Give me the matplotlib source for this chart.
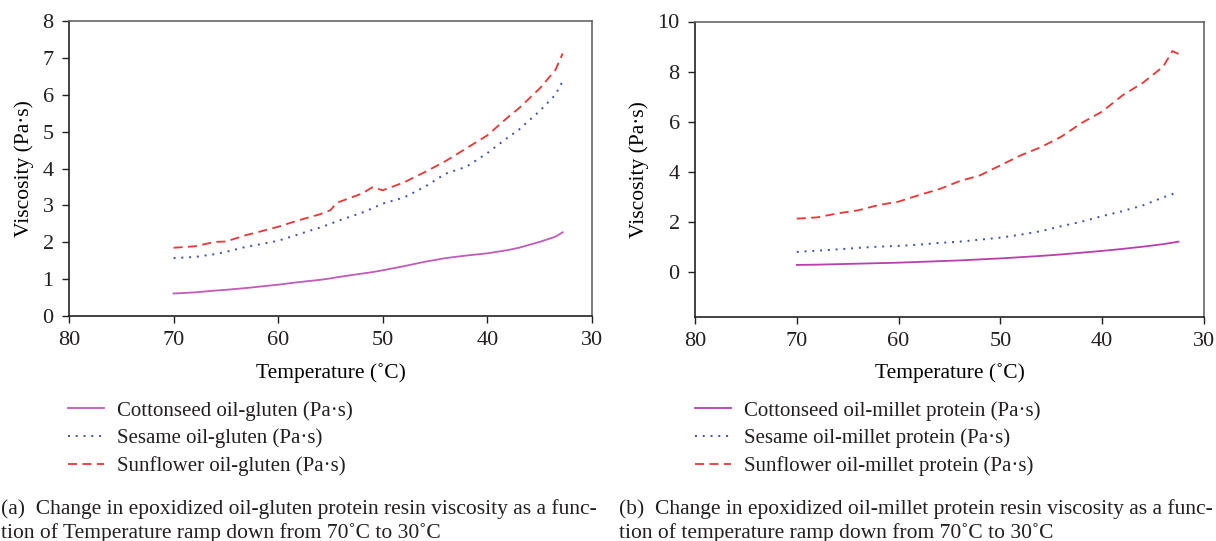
import matplotlib
matplotlib.use("Agg")
import matplotlib.pyplot as plt

plt.rcParams['font.family'] = ['Liberation Serif', 'DejaVu Serif']
plt.rcParams['text.color'] = '#231f20'

# (a) oil-gluten resins
temp_a = [70, 68, 66, 65, 63, 62, 60, 58, 56, 55, 54.4, 52, 51, 50, 48, 46, 44, 42, 40, 38, 37, 35, 33.5, 32.8]
cotton_gluten = [0.61, 0.64, 0.69, 0.71, 0.76, 0.79, 0.85, 0.92, 0.98, 1.02, 1.05, 1.15, 1.19, 1.24,
                 1.35, 1.47, 1.57, 1.64, 1.70, 1.79, 1.85, 2.01, 2.15, 2.27]
sesame_gluten = [1.57, 1.60, 1.68, 1.74, 1.88, 1.93, 2.04, 2.22, 2.40, 2.50, 2.57, 2.80, 2.92, 3.05,
                 3.21, 3.50, 3.86, 4.05, 4.42, 4.85, 5.05, 5.56, 6.00, 6.37]
sunflower_gluten = [1.85, 1.89, 2.01, 2.02, 2.20, 2.27, 2.42, 2.60, 2.76, 2.87, 3.07, 3.32, 3.49, 3.41,
                    3.62, 3.90, 4.20, 4.55, 4.90, 5.40, 5.63, 6.17, 6.67, 7.12]

# (b) oil-millet protein resins
temp_b = [70, 68, 66, 64, 62, 60, 58, 56, 54, 52, 50, 48, 46, 44, 42, 40, 38, 36, 34, 33.1, 32.5]
cotton_millet = [0.27, 0.28, 0.30, 0.32, 0.34, 0.36, 0.39, 0.42, 0.45, 0.49, 0.53, 0.58, 0.63, 0.69,
                 0.76, 0.83, 0.91, 1.00, 1.10, 1.16, 1.20]
sesame_millet = [0.79, 0.84, 0.89, 0.95, 1.00, 1.03, 1.08, 1.15, 1.20, 1.28, 1.36, 1.48, 1.62, 1.82,
                 2.00, 2.22, 2.42, 2.65, 2.97, 3.10, 3.22]
sunflower_millet = [2.12, 2.17, 2.33, 2.45, 2.66, 2.80, 3.06, 3.30, 3.62, 3.85, 4.25, 4.65, 4.98, 5.40,
                    5.95, 6.40, 7.05, 7.55, 8.20, 8.82, 8.70]

labels_a = ["Cottonseed oil-gluten (Pa·s)", "Sesame oil-gluten (Pa·s)", "Sunflower oil-gluten (Pa·s)"]
labels_b = ["Cottonseed oil-millet protein (Pa·s)", "Sesame oil-millet protein (Pa·s)",
            "Sunflower oil-millet protein (Pa·s)"]
captions = [
    "(a)  Change in epoxidized oil-gluten protein resin viscosity as a func-\n"
    "tion of Temperature ramp down from 70˚C to 30˚C",
    "(b)  Change in epoxidized oil-millet protein resin viscosity as a func-\n"
    "tion of temperature ramp down from 70˚C to 30˚C",
]

FS = 15.5
W, H = 1216, 541
fig = plt.figure(figsize=(W / 100, H / 100), dpi=100)

ax_a = fig.add_axes([69 / W, 1 - 316 / H, (592 - 69) / W, (316 - 21) / H])
ax_b = fig.add_axes([695 / W, 1 - 316.7 / H, (1204 - 695) / W, (316.7 - 21.5) / H])

red = '#ee3333'
blue = '#3c4fb4'

ax_a.plot(temp_a, cotton_gluten, color='#c25ab9', lw=1.3, label=labels_a[0])
ax_a.plot(temp_a, sesame_gluten, color=blue, lw=1.4, ls=(0, (1, 3)), label=labels_a[1])
ax_a.plot(temp_a, sunflower_gluten, color=red, lw=1.3, ls=(0, (5, 3)), label=labels_a[2])

ax_b.plot(temp_b, cotton_millet, color='#b83fae', lw=1.3, label=labels_b[0])
ax_b.plot(temp_b, sesame_millet, color=blue, lw=1.4, ls=(0, (1, 3)), label=labels_b[1])
ax_b.plot(temp_b, sunflower_millet, color=red, lw=1.3, ls=(0, (5, 3)), label=labels_b[2])

ax_a.set_ylim(0, 8)
ax_a.set_yticks(range(0, 9))
ax_b.set_ylim(-1.8, 10)
ax_b.set_yticks(range(0, 11, 2))

for ax in (ax_a, ax_b):
    ax.set_xlim(80, 30)
    ax.set_xticks(range(80, 29, -10))
    ax.tick_params(direction='out', length=5, width=1.0, labelsize=16, colors='#231f20', pad=6)
    ax.set_xlabel("Temperature (˚C)", fontsize=FS, labelpad=9)
    ax.set_ylabel("Viscosity (Pa·s)", fontsize=FS, labelpad=6)
    for side in ('left', 'bottom'):
        ax.spines[side].set_color('#222222')
        ax.spines[side].set_linewidth(1.2)
    for side in ('top', 'right'):
        ax.spines[side].set_color('#666666')
        ax.spines[side].set_linewidth(1.2)

for ax, x0 in ((ax_a, 68), (ax_b, 695)):
    ax.legend(loc='upper left', bbox_to_anchor=(x0 / W, 1 - 401 / H),
              bbox_transform=fig.transFigure, frameon=False, fontsize=15,
              borderpad=0, borderaxespad=0, handlelength=1.75, handletextpad=0.6,
              labelspacing=0.38)

fig.text(1 / W, 1 - 499 / H, captions[0], fontsize=FS, va='top', ha='left', linespacing=1.28)
fig.text(619 / W, 1 - 499 / H, captions[1], fontsize=FS, va='top', ha='left', linespacing=1.28)

fig.savefig("out.png", dpi=100)
